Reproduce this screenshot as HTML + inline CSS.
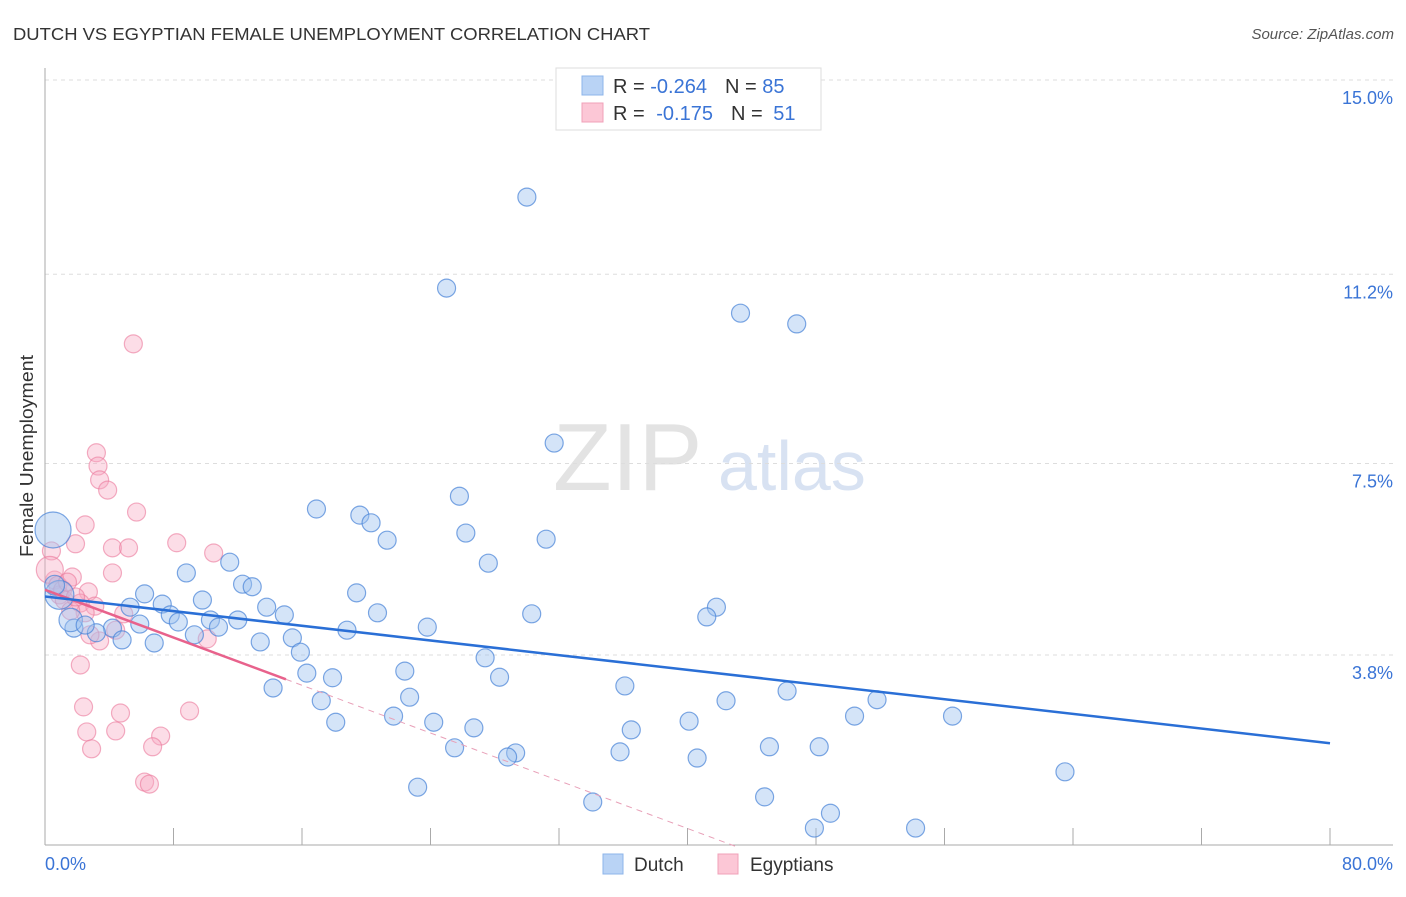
<!DOCTYPE html>
<html><head><meta charset="utf-8"><style>
body{margin:0;background:#fff;font-family:"Liberation Sans",sans-serif}
svg text{font-family:"Liberation Sans",sans-serif}
</style></head><body>
<svg id="c" width="1406" height="892" xmlns="http://www.w3.org/2000/svg">
<text x="13" y="40" font-size="17.5" fill="#333" textLength="637" lengthAdjust="spacingAndGlyphs">DUTCH VS EGYPTIAN FEMALE UNEMPLOYMENT CORRELATION CHART</text>
<text x="1394" y="39" font-size="15" fill="#555" font-style="italic" text-anchor="end">Source: ZipAtlas.com</text>
<text transform="translate(33,456) rotate(-90)" font-size="18" fill="#333" text-anchor="middle" textLength="202" lengthAdjust="spacingAndGlyphs">Female Unemployment</text>
<g><text x="553" y="490" font-size="96" font-family="Liberation Serif" fill="#ddd" opacity="0.8">ZIP</text><text x="718" y="490" font-size="70" fill="#cfdcf0" opacity="0.8">atlas</text></g>
<g id="grid"></g><g id="axes"></g><g id="marks"></g>
<g>
<rect x="556" y="68" width="265" height="62" fill="#fff" stroke="#ddd"/>
<rect x="582" y="76" width="21" height="19" fill="#b9d3f5" stroke="#8db4ea"/>
<rect x="582" y="103" width="21" height="19" fill="#fcc7d6" stroke="#f0a0b8"/>
<text x="613" y="93" font-size="20" fill="#333">R = <tspan fill="#3a74d6">-0.264</tspan><tspan dx="18">N = </tspan><tspan fill="#3a74d6">85</tspan></text>
<text x="613" y="120" font-size="20" fill="#333">R = <tspan dx="6" fill="#3a74d6">-0.175</tspan><tspan dx="18">N = </tspan><tspan dx="5" fill="#3a74d6">51</tspan></text>
</g>
<g>
<rect x="603" y="854" width="20" height="20" fill="#b9d3f5" stroke="#8db4ea"/>
<text x="634" y="871" font-size="19" fill="#333">Dutch</text>
<rect x="718" y="854" width="20" height="20" fill="#fcc7d6" stroke="#f0a0b8"/>
<text x="750" y="871" font-size="19" fill="#333">Egyptians</text>
</g>
</svg>
<script>
const dutchX=[30.0,25.0,43.3,46.8,31.7,25.8,16.9,19.6,20.3,26.2,21.3,31.2,11.5,27.6,8.8,12.3,12.9,6.2,19.4,7.3,9.8,5.3,13.8,41.8,7.8,14.9,20.7,30.3,41.2,10.3,8.3,12.0,5.9,4.2,23.8,18.8,10.8,1.8,3.2,9.3,4.8,6.8,13.4,15.4,15.9,27.4,16.3,22.4,28.3,17.9,36.1,14.2,46.2,22.7,17.2,42.4,51.8,21.7,50.4,56.5,18.1,24.2,26.7,40.1,36.5,45.1,48.2,25.5,29.3,28.8,35.8,40.6,63.5,23.2,44.8,34.1,48.9,47.9,54.2,0.5,0.9,1.6,0.6,2.5];
const dutchY=[12.71,10.93,10.44,10.23,7.90,6.86,6.61,6.49,6.34,6.14,6.00,6.02,5.57,5.55,5.36,5.14,5.09,4.95,4.97,4.75,4.83,4.69,4.69,4.69,4.54,4.54,4.58,4.56,4.50,4.44,4.40,4.44,4.36,4.28,4.30,4.24,4.30,4.28,4.19,4.15,4.05,3.99,4.01,4.09,3.81,3.70,3.40,3.44,3.32,3.31,3.15,3.11,3.05,2.93,2.86,2.86,2.88,2.56,2.56,2.56,2.44,2.44,2.33,2.46,2.29,1.96,1.96,1.94,1.84,1.76,1.86,1.74,1.47,1.17,0.98,0.88,0.66,0.37,0.37,6.20,4.93,4.44,5.12,4.34];
const dutchSize=[1,1,1,1,1,1,1,1,1,1,1,1,1,1,1,1,1,1,1,1,1,1,1,1,1,1,1,1,1,1,1,1,1,1,1,1,1,1,1,1,1,1,1,1,1,1,1,1,1,1,1,1,1,1,1,1,1,1,1,1,1,1,1,1,1,1,1,1,1,1,1,1,1,1,1,1,1,1,1,2,1.6,1.3,1.1,1];
const egyX=[5.5,3.2,3.3,3.4,3.9,5.7,2.5,0.4,1.9,4.2,5.2,8.2,10.5,4.2,1.7,0.6,2.7,0.9,1.2,0.3,2.2,3.1,2.5,4.9,1.6,3.4,4.4,2.8,10.1,2.2,2.4,4.7,9.0,2.6,4.4,7.2,2.9,6.7,6.2,6.5,0.8,1.1,1.9,1.4];
const egyY=[9.84,7.71,7.45,7.18,6.98,6.55,6.30,5.79,5.93,5.85,5.85,5.95,5.75,5.36,5.28,5.22,4.99,4.93,4.83,5.42,4.77,4.71,4.58,4.56,4.62,4.03,4.24,4.15,4.07,3.56,2.74,2.62,2.66,2.25,2.27,2.17,1.92,1.96,1.27,1.23,5.12,5.03,4.89,5.18];
const egySize=[1,1,1,1,1,1,1,1,1,1,1,1,1,1,1,1,1,1,1,1.5,1,1,1,1,1,1,1,1,1,1,1,1,1,1,1,1,1,1,1,1,1,1,1,1];
const yTicks=[3.8,7.5,11.2,15.0];
const yTickLabels=["3.8%","7.5%","11.2%","15.0%"];
const xTicks=[0,8,16,24,32,40,48,56,64,72,80];
const dutchTrend=[4.90,2.03];
const egyTrend=[5.03,-0.1167];
const egySolidEnd=15;
const X=v=>45+v*1285/80, Y=v=>847-v*767/15;
const NS='http://www.w3.org/2000/svg';
function mk(p,t,a){const e=document.createElementNS(NS,t);for(const k in a)e.setAttribute(k,a[k]);p.appendChild(e);return e;}
const grid=document.getElementById('grid'),axes=document.getElementById('axes'),marks=document.getElementById('marks');
yTicks.forEach((t,i)=>{const yy=t===3.8?655:Y(t);
 const l=mk(grid,'line',{x1:45,x2:1393,y1:yy,y2:yy,stroke:'#ddd','stroke-dasharray':'4,4'});
 
 
 const tx=mk(grid,'text',{x:1393,y:yy+24,'font-size':18,fill:'#3a74d6','text-anchor':'end'});tx.textContent=yTickLabels[i];
 
 });
mk(axes,'line',{x1:45,x2:45,y1:68,y2:845,stroke:'#aaa'});
mk(axes,'line',{x1:45,x2:1393,y1:845,y2:845,stroke:'#aaa'});
xTicks.forEach(t=>{const l=mk(axes,'line',{x1:X(t),x2:X(t),y1:828,y2:845,stroke:'#aaa'});
 
 });
let t0=mk(axes,'text',{x:45,y:870,'font-size':18,fill:'#3a74d6'});t0.textContent='0.0%';


let t1=mk(axes,'text',{x:1393,y:870,'font-size':18,fill:'#3a74d6','text-anchor':'end'});t1.textContent='80.0%';


egyX.forEach((x,i)=>{const c=mk(marks,'circle',{cx:X(x),cy:Y(egyY[i]),r:9*egySize[i],fill:'rgba(248,170,195,0.4)',stroke:'rgba(235,120,155,0.6)','stroke-width':1.2});
 
 });
dutchX.forEach((x,i)=>{const c=mk(marks,'circle',{cx:X(x),cy:Y(dutchY[i]),r:9*dutchSize[i],fill:'rgba(160,195,240,0.45)',stroke:'rgba(70,130,215,0.7)','stroke-width':1.2});
 
 });
const eEnd=-egyTrend[0]/egyTrend[1];
let ld=mk(marks,'line',{x1:X(egySolidEnd),y1:Y(egyTrend[0]+egyTrend[1]*egySolidEnd),x2:X(eEnd),y2:Y(0),stroke:'#e8a0b8','stroke-dasharray':'6,5','stroke-width':1});


let le=mk(marks,'line',{x1:X(0),y1:Y(egyTrend[0]),x2:X(egySolidEnd),y2:Y(egyTrend[0]+egyTrend[1]*egySolidEnd),stroke:'#e8628c','stroke-width':2.5});


let lb=mk(marks,'line',{x1:X(0),y1:Y(dutchTrend[0]),x2:X(80),y2:Y(dutchTrend[1]),stroke:'#2a6fd6','stroke-width':2.5});


</script>
</body></html>
